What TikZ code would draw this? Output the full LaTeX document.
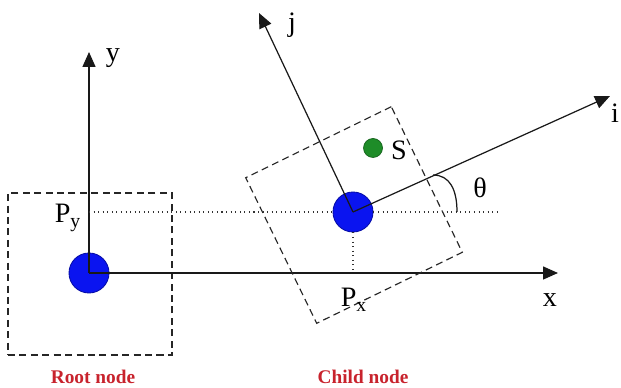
\documentclass[tikz,border=0pt]{standalone}
\usepackage{fontspec}
\setmainfont{Liberation Serif}
\usepackage{xcolor}
\usepackage{tikz}
\usetikzlibrary{arrows.meta,calc}
\definecolor{clrNode}{HTML}{0A14F0}
\definecolor{clrSensor}{HTML}{1E8C28}
\definecolor{clrCaption}{HTML}{C8232D}
\tikzset{
  treenode/.style={circle, minimum size=0.8cm, inner sep=0pt, fill=clrNode,
    draw=clrNode!70!black, line width=0.5pt},
  sensordot/.style={circle, minimum size=0.38cm, inner sep=0pt,
    fill=clrSensor, draw=clrSensor!70!black, line width=0.4pt},
  framebox/.style={rectangle, draw=black!85, line width=0.65pt,
    dash pattern=on 4pt off 2.5pt, inner sep=0pt},
  axis/.style={-{Triangle[length=8.5pt,width=7.4pt]}, line width=0.7pt,
    black!90},
  guide/.style={dotted, line width=0.6pt, black!80},
  lbl/.style={font=\fontsize{16}{18}\selectfont, inner sep=1pt},
  caption/.style={font=\fontsize{11}{13}\selectfont\bfseries,
    text=clrCaption},
}

\begin{document}
\begin{tikzpicture}[x=0.02cm, y=0.02cm]
\useasboundingbox (0,0) rectangle (621,388);

% ── Root node ──────────────────────────────────────────────────────────────
\node[framebox, minimum width=3.28cm, minimum height=3.24cm] (rootbox)
  at (90,114) {};
\node[treenode] (root) at (89,115) {};
\coordinate (ytip) at (89,336);
\coordinate (xtip) at (558,115);
\draw[axis] (root.center) -- (ytip);
\draw[axis] (root.center) -- (xtip);
\node[lbl] (ylbl) at (113,330) {y};
\node[lbl] (xlbl) at (550,88) {x};

% ── Child node ─────────────────────────────────────────────────────────────
\node[framebox, rotate=26, minimum width=3.24cm, minimum height=3.24cm]
  (childbox) at (354,173) {};
\node[treenode] (child) at (353,176) {};
\node[sensordot] (sdot) at (373,240) {};
\node[lbl] (slbl) at (399,238) {S};
\coordinate (jtip) at (259,375);
\coordinate (itip) at (610,292);
\draw[axis] (child.center) -- (jtip);
\draw[axis] (child.center) -- (itip);
\node[lbl] (jlbl) at (292,363) {j};
\node[lbl, anchor=west] (ilbl) at (609,275) {i};

% ── Projektionen und Winkel ────────────────────────────────────────────────
\coordinate (gend) at (497,176);
\draw[guide] (root |- child) -- (child);
\draw[guide] (child) -- (gend);
\draw[guide] (child) -- (child |- root);
\node[lbl] (pylbl) at (68,170) {P\textsubscript{y}};
\node[lbl] (pxlbl) at (354,88) {P\textsubscript{x}};
\coordinate (thA) at (433,213);
\coordinate (thB) at (457,176);
\draw[line width=0.7pt, black!90] (thA) .. controls (450,213) and (457,198) .. (thB);
\node[lbl] (thlbl) at (480,200) {θ};

% ── Beschriftung ───────────────────────────────────────────────────────────
\node[caption] (rootcap) at (93,11) {Root node};
\node[caption] (childcap) at (363,11) {Child node};

\end{tikzpicture}
\end{document}
